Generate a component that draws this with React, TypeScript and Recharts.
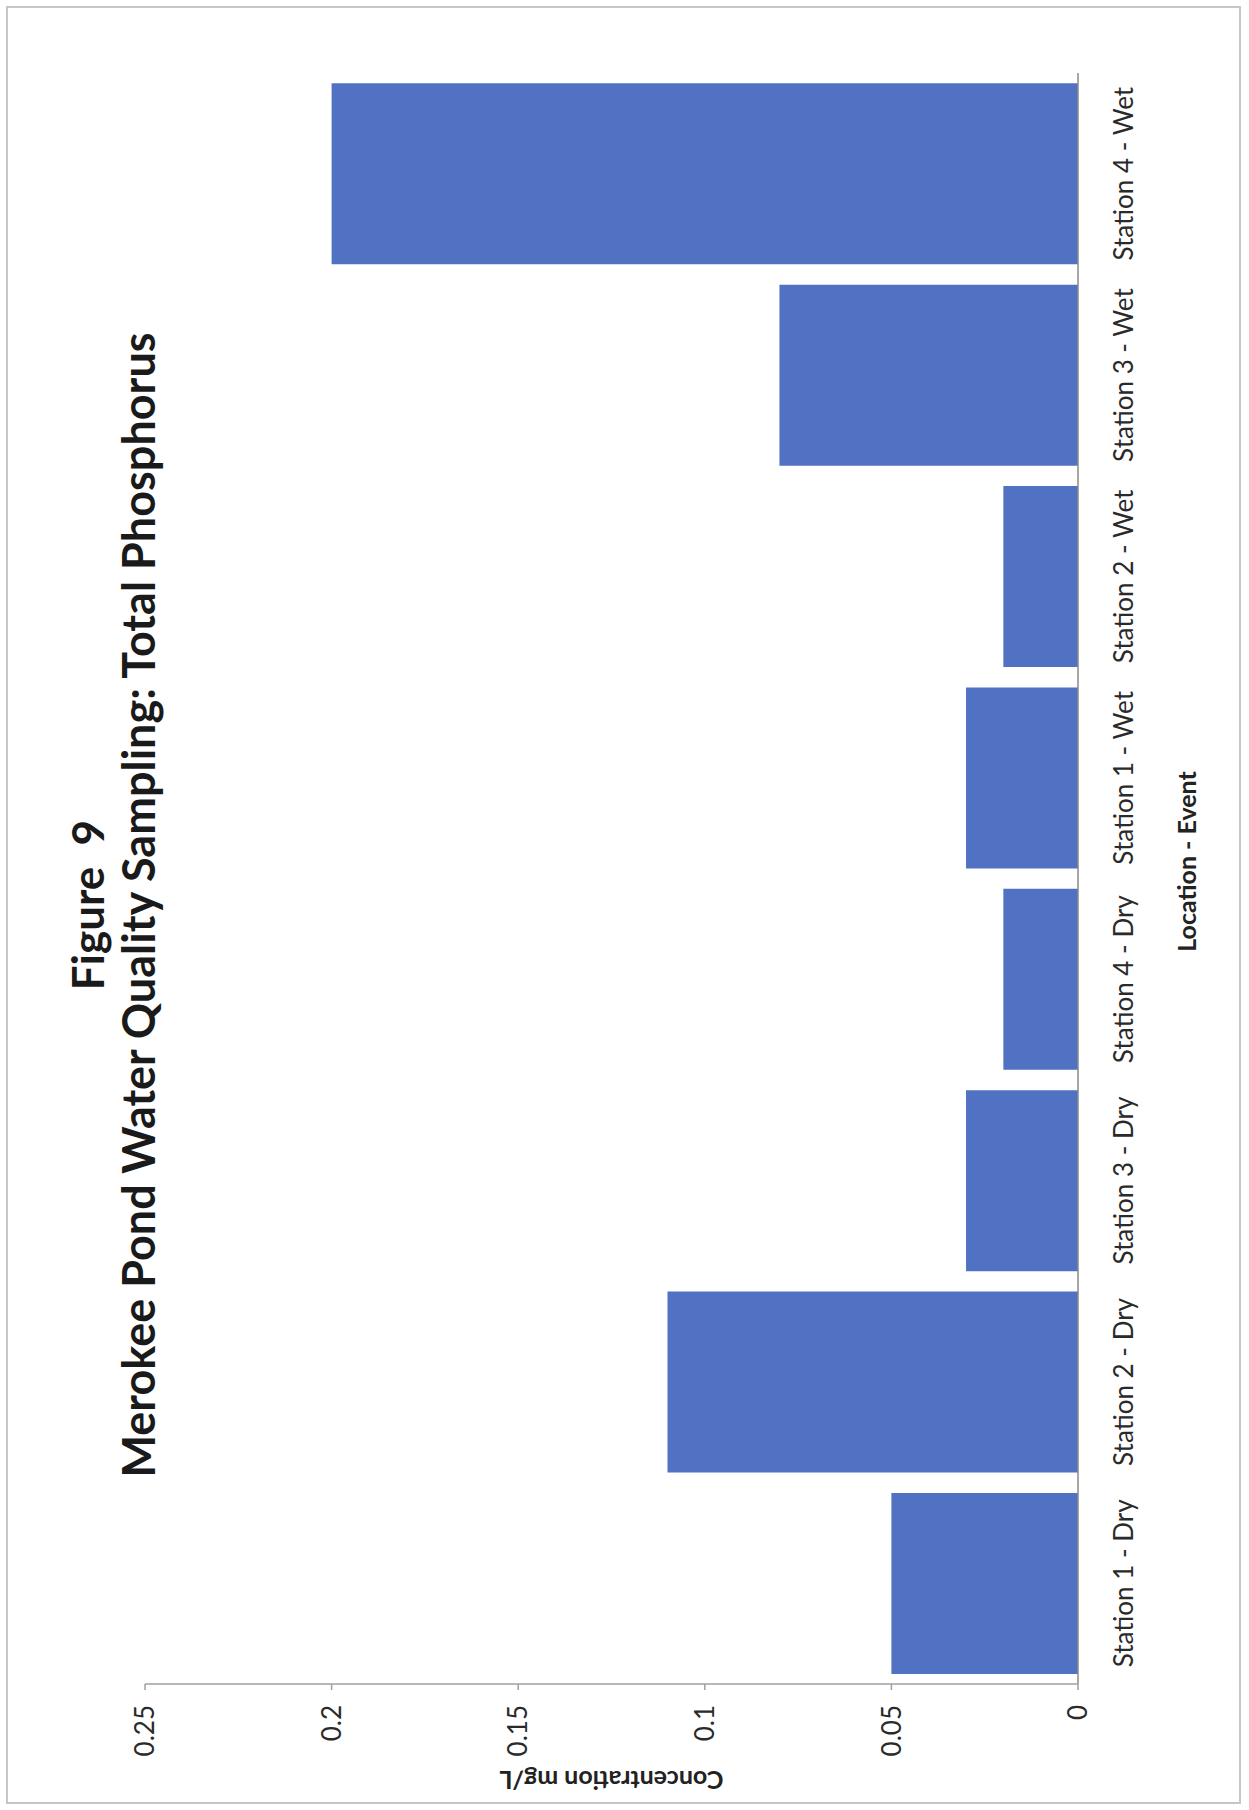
import React from "react";
import { BarChart, Bar, XAxis, YAxis, Label } from "recharts";

const categories = [
  "Station 1 - Dry",
  "Station 2 - Dry",
  "Station 3 - Dry",
  "Station 4 - Dry",
  "Station 1 - Wet",
  "Station 2 - Wet",
  "Station 3 - Wet",
  "Station 4 - Wet",
];
const phosphorus = [0.05, 0.11, 0.03, 0.02, 0.03, 0.02, 0.08, 0.2];
const valueTicks = [0, 0.05, 0.1, 0.15, 0.2, 0.25];

const titleLine1 = "Figure  9";
const titleLine2 = "Merokee Pond Water Quality Sampling: Total Phosphorus";
const xTitle = "Location - Event";
const yTitle = "Concentration mg/L";

const data = categories.map((name, i) => ({ name, value: phosphorus[i] }));

const FONT = "Lato, 'Open Sans', sans-serif";
const BAR = "#5171c3";

const XLabel = (props: any) => {
  const vb = props.viewBox || {};
  const cx = vb.x + vb.width / 2 + 17;
  return (
    <text
      x={cx}
      y={vb.y + 118}
      textAnchor="middle"
      fontFamily={FONT}
      fontWeight={700}
      fontSize={25}
      fill="#222"
    >
      {xTitle}
    </text>
  );
};

const YLabel = (props: any) => {
  const vb = props.viewBox || {};
  const x = vb.x + 29;
  const y = vb.y + vb.height / 2;
  return (
    <text
      x={x}
      y={y}
      transform={`rotate(-90, ${x}, ${y})`}
      textAnchor="middle"
      dominantBaseline="central"
      fontFamily={FONT}
      fontWeight={700}
      fontSize={25}
      fill="#222"
    >
      {yTitle}
    </text>
  );
};

export default function App() {
  return (
    <div
      style={{
        position: "absolute",
        left: 0,
        top: 0,
        width: 1249,
        height: 1810,
        background: "#fff",
        overflow: "hidden",
      }}
    >
      <div
        style={{
          position: "absolute",
          left: 6,
          top: 6,
          width: 1235,
          height: 1798,
          border: "2px solid #c6c6c6",
          boxSizing: "border-box",
        }}
      />
      <div
        style={{
          position: "absolute",
          left: 0,
          top: 0,
          width: 1810,
          height: 1249,
          transformOrigin: "0 0",
          transform: "translate(0px, 1810px) rotate(-90deg)",
        }}
      >
        <div
          style={{
            position: "absolute",
            left: 0,
            top: 87 - 25,
            width: 1810,
            height: 50,
            lineHeight: "50px",
            textAlign: "center",
            fontFamily: FONT,
            fontWeight: 700,
            fontSize: 44,
            color: "#1a1a1a",
            whiteSpace: "pre",
          }}
        >
          {titleLine1}
        </div>
        <div
          style={{
            position: "absolute",
            left: 0,
            top: 138 - 25,
            width: 1810,
            height: 50,
            lineHeight: "50px",
            textAlign: "center",
            fontFamily: FONT,
            fontWeight: 700,
            fontSize: 45,
            color: "#1a1a1a",
            whiteSpace: "pre",
          }}
        >
          {titleLine2}
        </div>
        <div style={{ position: "absolute", left: 0, top: 0 }}>
          <BarChart
            width={1810}
            height={1249}
            data={data}
            margin={{ top: 145, right: 73, bottom: 0, left: 0 }}
            barCategoryGap="5%"
          >
            <XAxis
              dataKey="name"
              height={171}
              interval={0}
              tickLine={false}
              tickSize={0}
              tickMargin={37}
              axisLine={{ stroke: "#8a8a8a", strokeWidth: 1.5 }}
              tick={{ fontSize: 26, fill: "#2a2a2a", fontFamily: FONT }}
            >
              <Label content={XLabel} />
            </XAxis>
            <YAxis
              type="number"
              width={126}
              domain={[0, 0.25]}
              ticks={valueTicks}
              interval={0}
              tickSize={6}
              tickMargin={15}
              axisLine={{ stroke: "#a0a0a0", strokeWidth: 1.5 }}
              tickLine={{ stroke: "#a0a0a0", strokeWidth: 1.5 }}
              tick={{ fontSize: 26, fill: "#2a2a2a", fontFamily: FONT }}
            >
              <Label content={YLabel} />
            </YAxis>
            <Bar dataKey="value" fill={BAR} isAnimationActive={false} />
          </BarChart>
        </div>
      </div>
    </div>
  );
}
